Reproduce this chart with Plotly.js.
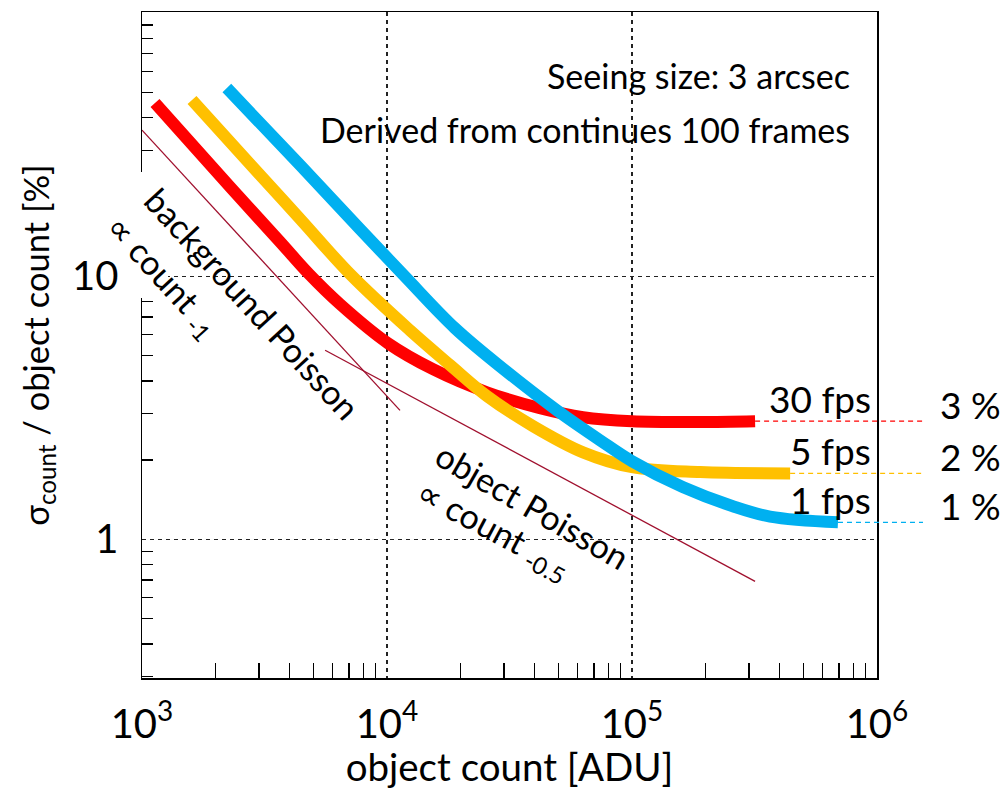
<!DOCTYPE html>
<html><head><meta charset="utf-8">
<script src="https://cdn.plot.ly/plotly-3.0.1.min.js"></script>
<style>html,body{margin:0;padding:0;background:#fff}</style>
</head><body><div id="chart" style="width:1003px;height:789px"></div>
<script>
// ---- data ----
const seriesNames = ['30 fps', '5 fps', '1 fps'];
const pctLabels = ['3 %', '2 %', '1 %'];
const seriesColors = ['#FF0000', '#FFC000', '#00B0F0'];

const x30 = [1130, 2290, 3660, 4800, 6430, 10090, 15400, 25600, 42100, 63100, 100000, 190000, 318000];
const y30 = [45.5, 21.8, 13.5, 10.2, 7.83, 5.56, 4.43, 3.62, 3.15, 2.91, 2.81, 2.79, 2.81];

const x5 = [1600, 2760, 4420, 7130, 12400, 18100, 25600, 39500, 63100, 100000, 190000, 442000];
const y5 = [46.7, 26.7, 16.5, 10.1, 6.23, 4.59, 3.50, 2.69, 2.14, 1.88, 1.80, 1.78];

const x1 = [2220, 4420, 7760, 11800, 18950, 30300, 49400, 74000, 100000, 161000, 258000, 366000, 693000];
const y1 = [51.9, 26.4, 15.1, 10.0, 6.34, 4.39, 3.09, 2.38, 1.98, 1.58, 1.335, 1.22, 1.16];

const bgPoissonX = [1000, 11300];
const bgPoissonY = [35.9, 3.09];
const objPoissonX = [5590, 318000];
const objPoissonY = [5.23, 0.692];

const xTickVals = [1e3, 1e4, 1e5, 1e6];
const xTickText = ['10<sup>3</sup>', '10<sup>4</sup>', '10<sup>5</sup>', '10<sup>6</sup>'];
const yTickVals = [1, 10];
const yTickText = ['1', '10'];

// ---- geometry ----
const W = 1003, H = 789, ML = 142, MR = 126, MT = 12, MB = 111;
const PW = W - ML - MR, PH = H - MT - MB;
const XR = [3, 6];
const YR = [Math.log10(0.297), 2.004];
const px2paperX = px => (px - ML) / PW;
const py2paperY = py => 1 - (py - MT) / PH;
const dataX2paper = v => (Math.log10(v) - XR[0]) / (XR[1] - XR[0]);

const FONT = 'Lato, "Open Sans", sans-serif';

function minorVals(lo, hi) {
  const out = [];
  for (let d = lo; d < hi; d++) for (let m = 2; m <= 9; m++) out.push(m * Math.pow(10, d));
  return out;
}

const xs = [x30, x5, x1], ys = [y30, y5, y1];
const traces = [
  {x: bgPoissonX, y: bgPoissonY, mode: 'lines', line: {color: '#A0102E', width: 1.3}, hoverinfo: 'skip'},
  {x: objPoissonX, y: objPoissonY, mode: 'lines', line: {color: '#A0102E', width: 1.3}, hoverinfo: 'skip'}
];
for (let i = 0; i < 3; i++) {
  traces.push({x: xs[i], y: ys[i], name: seriesNames[i], mode: 'lines',
    line: {color: seriesColors[i], width: 12, shape: 'spline', smoothing: 1}});
}

// white fill of the text boxes in the original (covers grid only)
const masks = [
  [140, 272, 268, 284, 'between'],   // y=10 grid left part
  [380, 396, 93, 163, 'between'],    // x=1e4 grid, text box
  [624, 642, 43, 162, 'between'],    // x=1e5 grid, text box
  [624, 642, 493, 567, 'between'],   // x=1e5 grid, lower text box
  [440, 662, 532, 546, 'between'],   // y=1 grid
  [132, 168, 172, 298, 'above']      // left axis gap
];
const shapes = masks.map(m => ({type: 'rect', xref: 'paper', yref: 'paper',
  x0: px2paperX(m[0]), x1: px2paperX(m[1]), y0: py2paperY(m[3]), y1: py2paperY(m[2]),
  fillcolor: '#ffffff', line: {width: 0}, layer: m[4]}));

const annotations = [];
const rightEnd = px2paperX(923);
for (let i = 0; i < 3; i++) {
  const xe = xs[i][xs[i].length - 1], ye = ys[i][ys[i].length - 1];
  shapes.push({type: 'line', xref: 'paper', yref: 'y', x0: dataX2paper(xe), x1: rightEnd,
    y0: ye, y1: ye, line: {color: seriesColors[i], width: 1.2, dash: '5px,4px'}});
  annotations.push({xref: 'paper', yref: 'y', x: px2paperX(873), y: Math.log10(ye), xanchor: 'right', yanchor: 'bottom',
    yshift: -2, text: seriesNames[i], showarrow: false, font: {family: FONT, size: 37, color: '#000'}});
  annotations.push({xref: 'paper', yref: 'y', x: px2paperX(970), y: Math.log10(ye), xanchor: 'center', yanchor: 'bottom',
    yshift: -8, text: pctLabels[i], showarrow: false, font: {family: FONT, size: 37, color: '#000'}});
}
const txt = (text, px, py, ang, anchor) => ({xref: 'paper', yref: 'paper', x: px2paperX(px), y: py2paperY(py),
  xanchor: anchor || 'center', yanchor: 'middle', text: text, textangle: ang, showarrow: false,
  font: {family: FONT, size: 34, color: '#000'}});
annotations.push(txt('Seeing size: 3 arcsec', 852, 75, 0, 'right'));
annotations.push(txt('Derived from continues 100 frames', 852, 129, 0, 'right'));
annotations.push(txt('background Poisson', 253, 303, 47.5));
annotations.push(txt('∝ count <sub>-1</sub>', 162, 276, 47.5));
annotations.push(txt('object Poisson', 533, 505, 30));
annotations.push(txt('∝ count <sub>-0.5</sub>', 493, 530, 28));

const layout = {
  width: W, height: H,
  margin: {l: ML, r: MR, t: MT, b: MB, pad: 0},
  paper_bgcolor: '#fff', plot_bgcolor: '#fff',
  showlegend: false,
  font: {family: FONT, color: '#000'},
  xaxis: {type: 'log', range: XR, showline: true, mirror: true, linecolor: '#000', linewidth: 1.5,
    tickmode: 'array', tickvals: xTickVals, ticktext: xTickText, ticks: '',
    tickfont: {family: FONT, size: 40, color: '#000'}, ticklabelstandoff: 10,
    showgrid: true, gridcolor: '#222', gridwidth: 1.3, griddash: '4px,4px', zeroline: false,
    minor: {tickmode: 'array', tickvals: minorVals(3, 6), ticks: 'inside', ticklen: 15, tickwidth: 1.3, tickcolor: '#000', showgrid: false},
    title: {text: 'object count [ADU]', font: {family: FONT, size: 38.5, color: '#000'}, standoff: 6},
    automargin: false},
  yaxis: {type: 'log', range: YR, showline: true, mirror: true, linecolor: '#000', linewidth: 1.5,
    tickmode: 'array', tickvals: yTickVals, ticktext: yTickText, ticks: '',
    tickfont: {family: FONT, size: 40, color: '#000'}, ticklabelstandoff: 14,
    showgrid: true, gridcolor: '#222', gridwidth: 1.3, griddash: '4px,4px', zeroline: false,
    minor: {tickmode: 'array', tickvals: minorVals(-1, 2).filter(v => v >= 0.3), ticks: 'inside', ticklen: 11, tickwidth: 1.3, tickcolor: '#000', showgrid: false},
    title: {text: 'σ<sub>count</sub> / object count [%]', font: {family: FONT, size: 34.5, color: '#000'}, standoff: 12},
    automargin: false},
  shapes: shapes,
  annotations: annotations
};

Plotly.newPlot('chart', traces, layout, {displayModeBar: false, staticPlot: true});
</script></body></html>
